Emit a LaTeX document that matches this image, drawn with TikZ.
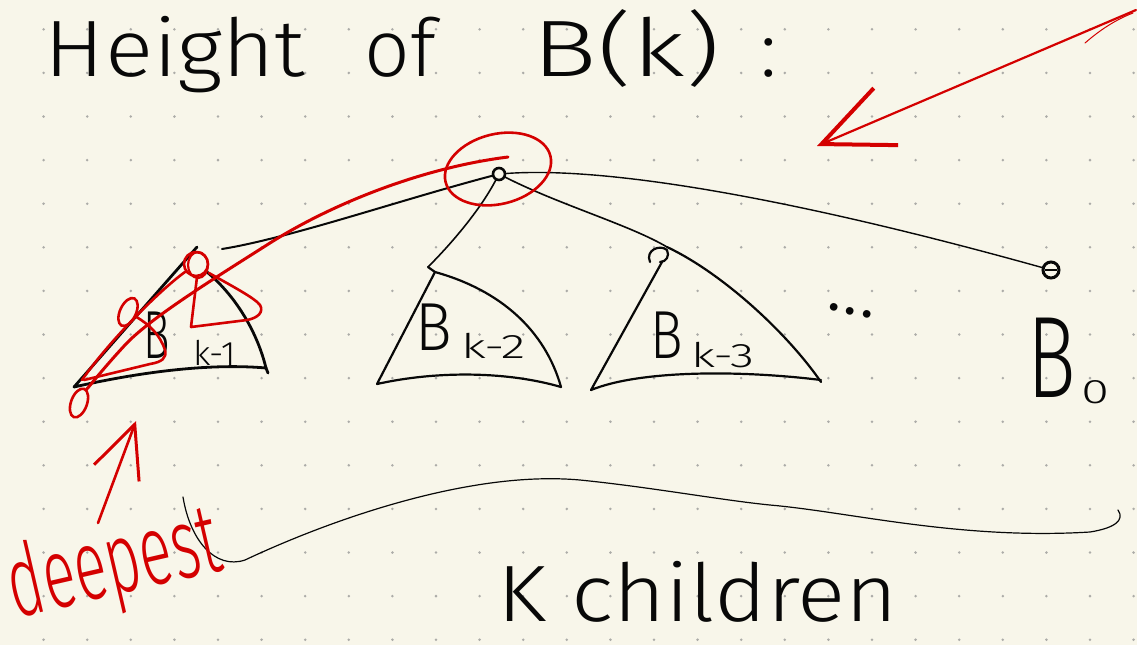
\documentclass[tikz,border=0pt]{standalone}
\usepackage{fontspec}
\usepackage{graphicx}
\newfontfamily\hand{Fira Sans Light}
\newfontfamily\handnarrow{Fira Sans Light}[FakeStretch=0.6]
\usetikzlibrary{arrows.meta,shapes.geometric}
\definecolor{paper}{RGB}{248,246,234}
\definecolor{ink}{RGB}{8,8,8}
\definecolor{pen}{RGB}{212,0,0}
\definecolor{dotc}{RGB}{172,172,168}
\newcommand{\hs}[1]{\hand\fontsize{#1}{#1}\selectfont}
\begin{document}
\begin{tikzpicture}[x=0.5pt,y=-0.5pt,
  txt/.style={inner sep=0pt, outer sep=0pt, text=ink},
  inkline/.style={draw=ink, line width=1.4pt, line cap=round, line join=round},
  conn/.style={draw=ink, line width=0.8pt, line cap=round, line join=round},
  redline/.style={draw=pen, line width=1.5pt, line cap=round, line join=round},
  ring/.style={draw=pen, line width=1.3pt, inner sep=0pt},
  dotnode/.style={draw=ink, circle, line width=1.3pt, inner sep=0pt},
]
% paper and dot grid
\fill[paper] (0,0) rectangle (1137,645);
\useasboundingbox (0,0) rectangle (1137,645);
\foreach \i in {1,...,26}{
  \foreach \j in {0,...,14}{
    \fill[dotc] (43.6*\i, 29.3+43.6*\j) circle[radius=1.4];
  }
}

% title
\node[txt, anchor=base west, font={\hs{40}}] (title) at (45,76)
  {\makebox[160pt][l]{\scalebox{1.12}[1]{Height}}\makebox[84pt][l]{of}\scalebox{1.35}[1]{B(k)}\hspace{20pt}:};

% root and B0 dot
\node[dotnode, minimum size=6pt] (root) at (499,174) {};
\node[dotnode, minimum size=8pt, line width=1.5pt] (b0dot) at (1051,270) {};
\draw[ink, line width=1pt] (1045,270) -- (1057,270);

% apex coordinates
\coordinate (a1) at (222,249);
\coordinate (a2) at (428,267);
\coordinate (a3) at (667,247);

% connectors from the root
\draw[conn, line width=1pt] (root) .. controls (400,200) and (290,238) .. (a1);
\draw[conn] (root) .. controls (480,210) and (452,243) .. (a2);
\draw[conn] (root) .. controls (560,205) and (630,225) .. (a3);
\draw[conn, line width=0.7pt] (root) .. controls (610,166) and (800,200) .. (b0dot);

% B_{k-1} triangle
\draw[inkline] (197,247) -- (74,387) .. controls (140,372) and (210,363) .. (266,368) -- (268,373);
\draw[inkline] (207,272) .. controls (238,298) and (258,335) .. (266,368);

% B_{k-2} triangle
\draw[inkline, line width=1.1pt] (a2) -- (435,272) -- (377,384) .. controls (440,370) and (510,372) .. (561,387);
\draw[inkline, line width=1.1pt] (435,272) .. controls (500,290) and (545,330) .. (561,387);

% B_{k-3} triangle
\draw[inkline, line width=1.1pt] (a3) .. controls (720,272) and (785,330) .. (821,382);
\draw[inkline, line width=1.1pt] (662,262) -- (591,390) .. controls (640,370) and (740,370) .. (821,380);
\draw[inkline, line width=1.1pt] (650,262) .. controls (645,250) and (660,244) .. (667,250) .. controls (670,256) and (666,262) .. (660,262);

% labels
\node[txt, anchor=base west, font={\hs{34}}] (bk1) at (143,358)
  {\makebox[25pt][l]{\scalebox{0.65}[1]{B}}\raisebox{-3.5pt}{\hs{17}\scalebox{1.05}[1]{k-1}}};
\node[txt, anchor=base west, font={\hs{34}}] (bk2) at (415,350)
  {\makebox[23pt][l]{\scalebox{0.9}[1]{B}}\raisebox{-4pt}{\hs{17}\scalebox{1.5}[1]{k-2}}};
\node[txt, anchor=base west, font={\hs{34}}] (bk3) at (650,358)
  {\makebox[20.5pt][l]{\scalebox{0.8}[1]{B}}\raisebox{-4.5pt}{\hs{17}\scalebox{1.45}[1]{k-3}}};
\node[txt, anchor=base west, font={\hs{58}}] (b0) at (1027,397)
  {\makebox[27pt][l]{\scalebox{0.7}[1]{B}}\raisebox{-3pt}{\hs{17}\scalebox{1.5}[1]{0}}};
\node[txt, anchor=base, font={\hs{40}}, rotate=-12] (dots) at (850,314) {...};

% brace and "K children"
\draw[conn, line width=0.6pt] (183,497) .. controls (190,540) and (215,570) .. (245,560)
  .. controls (330,520) and (470,470) .. (580,480)
  .. controls (650,487) and (720,500) .. (770,505)
  .. controls (850,512) and (960,540) .. (1090,532)
  .. controls (1115,528) and (1125,520) .. (1118,510);
\node[txt, anchor=base west, font={\hs{40}}] (kch) at (497,621) {\scalebox{1.12}[1]{K children}};

% ---------- red annotations ----------
\node[ring, ellipse, minimum width=54pt, minimum height=35pt, rotate=14] (rootring) at (498,169) {};
\node[ring, circle, minimum size=12pt] (apexring) at (196,264) {};
\draw[redline, line width=1.1pt] (198,265) ellipse[x radius=10, y radius=13];
\node[ring, ellipse, minimum width=8pt, minimum height=15pt, rotate=-25] (midring) at (128,312) {};
\node[ring, ellipse, minimum width=8pt, minimum height=15pt, rotate=-20] (deepoval) at (79,403) {};

\coordinate (rstart) at (508,157);
\draw[redline] (rstart) .. controls (420,168) and (330,205) .. (270,243)
  .. controls (215,278) and (150,318) .. (125,345)
  .. controls (100,372) and (85,392) .. (deepoval);
\draw[redline, line width=1.3pt] (apexring) .. controls (160,290) and (110,340) .. (82,380);
% sub-tree loops
\draw[redline, line width=1.3pt] (209,273) .. controls (230,285) and (255,298) .. (260,305)
  .. controls (264,312) and (258,318) .. (247,320) -- (191,327) -- (197,277);
\draw[redline, line width=1.3pt] (midring) .. controls (150,325) and (160,335) .. (165,350)
  .. controls (167,358) and (162,362) .. (150,364) -- (84,380);

% big red arrow
\coordinate (bigtail) at (1136,10);
\coordinate (bigtip) at (817,146);
\draw[pen, line width=1.1pt, line cap=round,
  -{Straight Barb[length=35pt,width=31pt,line width=2pt]}] (bigtail) -- (bigtip);
\draw[pen, line width=0.5pt, line cap=round] (1085,43) .. controls (1100,30) and (1115,20) .. (1133,13);

% deepest
\node[txt, text=pen, anchor=base west, rotate=13, font={\handnarrow\fontsize{50}{50}\selectfont}] (deepest) at (16,618)
  {deepest};
\coordinate (dtail) at (98,523);
\coordinate (dtip) at (136,421);
\draw[pen, line width=1.3pt, line cap=round,
  -{Straight Barb[length=26pt,width=24pt,line width=1.5pt]}] (dtail) -- (dtip);
\end{tikzpicture}
\end{document}
